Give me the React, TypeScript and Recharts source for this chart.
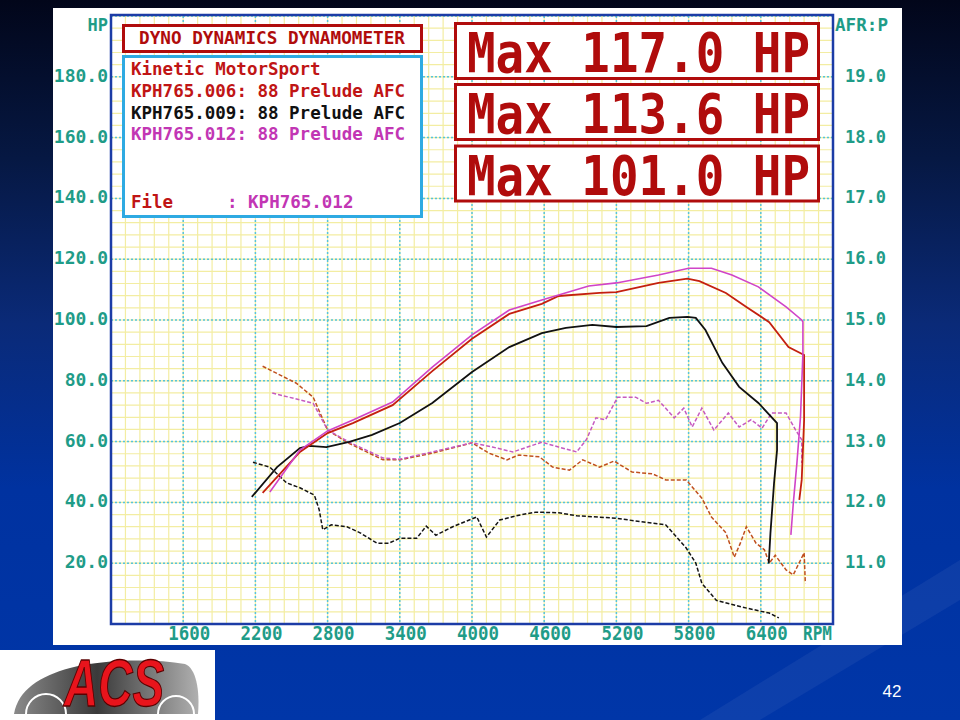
import React from "react";
import { ComposedChart, Line, XAxis, YAxis, CartesianGrid } from "recharts";

// tick labels
const rpmTicks = [1600, 2200, 2800, 3400, 4000, 4600, 5200, 5800, 6400];
const hpTicks = [20, 40, 60, 80, 100, 120, 140, 160, 180];
const afrTicks = [11, 12, 13, 14, 15, 16, 17, 18, 19];

// graph paper
const rpmMinor = Array.from({ length: 51 }, (_, i) => 1000 + i * 120);
const hpMinor = Array.from({ length: 51 }, (_, i) => i * 4);

// power runs (HP vs RPM)
const power006 = [
  { rpm: 2260, v: 43.1 }, { rpm: 2570, v: 56.6 }, { rpm: 2800, v: 62.8 },
  { rpm: 3010, v: 66.1 }, { rpm: 3340, v: 72.0 }, { rpm: 3670, v: 83.2 },
  { rpm: 4000, v: 93.8 }, { rpm: 4310, v: 102.0 }, { rpm: 4580, v: 105.3 },
  { rpm: 4720, v: 107.9 }, { rpm: 5060, v: 108.9 }, { rpm: 5200, v: 109.2 },
  { rpm: 5550, v: 112.2 }, { rpm: 5790, v: 113.6 }, { rpm: 5890, v: 112.8 },
  { rpm: 6110, v: 108.9 }, { rpm: 6280, v: 104.3 }, { rpm: 6470, v: 99.3 },
  { rpm: 6630, v: 91.1 }, { rpm: 6760, v: 88.5 }, { rpm: 6760, v: 67.1 },
  { rpm: 6740, v: 47.4 }, { rpm: 6720, v: 40.8 },
];

const power009 = [
  { rpm: 2170, v: 41.8 }, { rpm: 2380, v: 51.6 }, { rpm: 2570, v: 57.9 },
  { rpm: 2650, v: 58.6 }, { rpm: 2790, v: 58.2 }, { rpm: 2980, v: 59.9 },
  { rpm: 3170, v: 62.2 }, { rpm: 3400, v: 66.1 }, { rpm: 3670, v: 72.7 },
  { rpm: 4000, v: 82.9 }, { rpm: 4310, v: 91.1 }, { rpm: 4580, v: 95.7 },
  { rpm: 4780, v: 97.4 }, { rpm: 5000, v: 98.4 }, { rpm: 5200, v: 97.7 },
  { rpm: 5450, v: 98.0 }, { rpm: 5640, v: 100.7 }, { rpm: 5790, v: 101.0 },
  { rpm: 5860, v: 100.7 }, { rpm: 5940, v: 96.7 }, { rpm: 6080, v: 85.9 },
  { rpm: 6220, v: 78.0 }, { rpm: 6380, v: 72.7 }, { rpm: 6535, v: 66.1 },
  { rpm: 6535, v: 57.2 }, { rpm: 6510, v: 46.3 }, { rpm: 6480, v: 29.8 },
  { rpm: 6466, v: 19.9 },
];

const power012 = [
  { rpm: 2320, v: 43.4 }, { rpm: 2570, v: 57.2 }, { rpm: 2800, v: 63.5 },
  { rpm: 3010, v: 67.1 }, { rpm: 3340, v: 73.0 }, { rpm: 3670, v: 84.5 },
  { rpm: 4000, v: 95.1 }, { rpm: 4310, v: 103.3 }, { rpm: 4580, v: 106.6 },
  { rpm: 4970, v: 111.2 }, { rpm: 5200, v: 112.2 }, { rpm: 5550, v: 114.8 },
  { rpm: 5800, v: 117.0 }, { rpm: 5990, v: 117.0 }, { rpm: 6160, v: 114.8 },
  { rpm: 6380, v: 110.9 }, { rpm: 6610, v: 104.3 }, { rpm: 6740, v: 100.0 },
  { rpm: 6750, v: 99.4 }, { rpm: 6750, v: 89.1 }, { rpm: 6730, v: 68.2 },
  { rpm: 6700, v: 52.9 }, { rpm: 6670, v: 39.7 }, { rpm: 6650, v: 29.3 },
];

// air/fuel ratio runs
const afr006 = [
  { rpm: 2260, v: 14.24 }, { rpm: 2540, v: 13.96 }, { rpm: 2680, v: 13.73 },
  { rpm: 2800, v: 13.19 }, { rpm: 2960, v: 12.99 }, { rpm: 3260, v: 12.7 },
  { rpm: 3400, v: 12.7 }, { rpm: 3670, v: 12.81 }, { rpm: 4000, v: 12.98 },
  { rpm: 4140, v: 12.81 }, { rpm: 4290, v: 12.7 }, { rpm: 4390, v: 12.78 },
  { rpm: 4560, v: 12.75 }, { rpm: 4670, v: 12.58 }, { rpm: 4810, v: 12.53 },
  { rpm: 4920, v: 12.7 }, { rpm: 5060, v: 12.58 }, { rpm: 5180, v: 12.68 },
  { rpm: 5330, v: 12.5 }, { rpm: 5500, v: 12.47 }, { rpm: 5610, v: 12.37 },
  { rpm: 5780, v: 12.37 }, { rpm: 5910, v: 12.07 }, { rpm: 5990, v: 11.76 },
  { rpm: 6110, v: 11.5 }, { rpm: 6180, v: 11.1 }, { rpm: 6230, v: 11.33 },
  { rpm: 6280, v: 11.6 }, { rpm: 6360, v: 11.33 }, { rpm: 6430, v: 11.22 },
  { rpm: 6470, v: 11.0 }, { rpm: 6520, v: 11.13 }, { rpm: 6610, v: 10.89 },
  { rpm: 6670, v: 10.81 }, { rpm: 6760, v: 11.17 }, { rpm: 6770, v: 10.67 },
];

const afr009 = [
  { rpm: 2180, v: 12.66 }, { rpm: 2320, v: 12.58 }, { rpm: 2460, v: 12.32 },
  { rpm: 2570, v: 12.24 }, { rpm: 2690, v: 12.12 }, { rpm: 2730, v: 11.88 },
  { rpm: 2760, v: 11.55 }, { rpm: 2830, v: 11.63 }, { rpm: 2960, v: 11.6 },
  { rpm: 3070, v: 11.5 }, { rpm: 3210, v: 11.33 }, { rpm: 3310, v: 11.33 },
  { rpm: 3400, v: 11.41 }, { rpm: 3540, v: 11.41 }, { rpm: 3620, v: 11.61 },
  { rpm: 3700, v: 11.46 }, { rpm: 3840, v: 11.6 }, { rpm: 4040, v: 11.76 },
  { rpm: 4120, v: 11.43 }, { rpm: 4230, v: 11.71 }, { rpm: 4390, v: 11.79 },
  { rpm: 4530, v: 11.84 }, { rpm: 4720, v: 11.83 }, { rpm: 4870, v: 11.78 },
  { rpm: 5200, v: 11.74 }, { rpm: 5410, v: 11.68 }, { rpm: 5610, v: 11.63 },
  { rpm: 5780, v: 11.25 }, { rpm: 5860, v: 11.0 }, { rpm: 5910, v: 10.67 },
  { rpm: 6030, v: 10.39 }, { rpm: 6240, v: 10.28 }, { rpm: 6470, v: 10.18 },
  { rpm: 6550, v: 10.1 },
];

const afr012 = [
  { rpm: 2340, v: 13.8 }, { rpm: 2680, v: 13.63 }, { rpm: 2800, v: 13.19 },
  { rpm: 2980, v: 12.99 }, { rpm: 3260, v: 12.73 }, { rpm: 3400, v: 12.71 },
  { rpm: 3670, v: 12.83 }, { rpm: 4000, v: 12.98 }, { rpm: 4170, v: 12.91 },
  { rpm: 4340, v: 12.83 }, { rpm: 4580, v: 12.99 }, { rpm: 4720, v: 12.91 },
  { rpm: 4870, v: 12.83 }, { rpm: 4950, v: 13.03 }, { rpm: 5030, v: 13.39 },
  { rpm: 5110, v: 13.36 }, { rpm: 5210, v: 13.73 }, { rpm: 5360, v: 13.73 },
  { rpm: 5450, v: 13.63 }, { rpm: 5550, v: 13.68 }, { rpm: 5680, v: 13.39 },
  { rpm: 5760, v: 13.55 }, { rpm: 5830, v: 13.24 }, { rpm: 5910, v: 13.55 },
  { rpm: 6010, v: 13.19 }, { rpm: 6130, v: 13.47 }, { rpm: 6220, v: 13.24 },
  { rpm: 6320, v: 13.36 }, { rpm: 6410, v: 13.22 }, { rpm: 6490, v: 13.47 },
  { rpm: 6610, v: 13.47 }, { rpm: 6690, v: 13.19 }, { rpm: 6740, v: 13.03 },
  { rpm: 6740, v: 12.65 },
];

const maxLabels = ["Max 117.0 HP", "Max 113.6 HP", "Max 101.0 HP"];
const runLabels = [
  { text: "KPH765.006: 88 Prelude AFC", color: "#c01515" },
  { text: "KPH765.009: 88 Prelude AFC", color: "#111111" },
  { text: "KPH765.012: 88 Prelude AFC", color: "#c236b4" },
];

const teal = "#1f9c88";
const mono = "'DejaVu Sans Mono', 'Liberation Mono', monospace";
const boxRed = "#b00c0c";

const RpmTick = (props: any) => {
  const { x, y, payload } = props;
  return (
    <text x={x + 6} y={y + 16} textAnchor="middle" fill={teal} fontFamily={mono}
      fontWeight="bold" fontSize={19} textLength={42} lengthAdjust="spacingAndGlyphs">
      {payload.value}
    </text>
  );
};

const HpTick = (props: any) => {
  const { x, y, payload } = props;
  return (
    <text x={x} y={y + 5} textAnchor="end" fill={teal} fontFamily={mono}
      fontWeight="bold" fontSize={18}>
      {Number(payload.value).toFixed(1)}
    </text>
  );
};

const AfrTick = (props: any) => {
  const { x, y, payload } = props;
  return (
    <text x={x + 12} y={y + 5} textAnchor="start" fill={teal} fontFamily={mono}
      fontWeight="bold" fontSize={17}>
      {Number(payload.value).toFixed(1)}
    </text>
  );
};

export default function App() {
  return (
    <div
      style={{
        position: "absolute", left: 0, top: 0, width: 960, height: 720, overflow: "hidden",
        background: "linear-gradient(180deg, #02061a 0%, #061843 22%, #0a2a78 45%, #0032a0 68%, #0036a8 100%)",
      }}
    >
      <div style={{ position: "absolute", left: 53, top: 8, width: 849, height: 637, background: "#ffffff" }}>
        <ComposedChart width={849} height={637} margin={{ top: 8, right: 0, bottom: 0, left: 0 }}>
          <XAxis xAxisId="rpm" type="number" dataKey="rpm" domain={[1000, 7000]} ticks={rpmTicks}
            allowDataOverflow height={21} tickSize={0} tickMargin={0} axisLine={false} interval={0}
            tick={<RpmTick />} />
          <YAxis yAxisId="hp" orientation="left" type="number" domain={[0, 200]} ticks={hpTicks}
            allowDataOverflow width={58} tickSize={0} tickMargin={3} axisLine={false} interval={0}
            tick={<HpTick />} />
          <YAxis yAxisId="afr" orientation="right" type="number" domain={[10, 20]} ticks={afrTicks}
            allowDataOverflow width={69} tickSize={0} tickMargin={0} axisLine={false} interval={0}
            tick={<AfrTick />} />
          <CartesianGrid xAxisId="rpm" yAxisId="hp" verticalValues={rpmMinor} horizontalValues={hpMinor}
            stroke="#f3eda2" strokeWidth={1.2} />
          <CartesianGrid xAxisId="rpm" yAxisId="hp" stroke="#56c3dc" strokeWidth={1.5} strokeDasharray="2 2" />

          <Line data={afr009} xAxisId="rpm" yAxisId="afr" dataKey="v" type="linear" stroke="#141414"
            strokeWidth={1.5} strokeDasharray="4 2" dot={false} isAnimationActive={false} />
          <Line data={afr006} xAxisId="rpm" yAxisId="afr" dataKey="v" type="linear" stroke="#c0501e"
            strokeWidth={1.5} strokeDasharray="4 2" dot={false} isAnimationActive={false} />
          <Line data={afr012} xAxisId="rpm" yAxisId="afr" dataKey="v" type="linear" stroke="#c65ac0"
            strokeWidth={1.5} strokeDasharray="4 2" dot={false} isAnimationActive={false} />
          <Line data={power009} xAxisId="rpm" yAxisId="hp" dataKey="v" type="linear" stroke="#111111"
            strokeWidth={1.8} dot={false} isAnimationActive={false} />
          <Line data={power006} xAxisId="rpm" yAxisId="hp" dataKey="v" type="linear" stroke="#c4200f"
            strokeWidth={1.8} dot={false} isAnimationActive={false} />
          <Line data={power012} xAxisId="rpm" yAxisId="hp" dataKey="v" type="linear" stroke="#d044c8"
            strokeWidth={1.6} dot={false} isAnimationActive={false} />
        </ComposedChart>
      </div>

      <svg width={960} height={720} style={{ position: "absolute", left: 0, top: 0, pointerEvents: "none" }}>
        {/* plot frame */}
        <rect x={111} y={15} width={722} height={609} fill="none" stroke="#1c3ca6" strokeWidth={2.5} />
        <text x={108} y={31} textAnchor="end" fill={teal} fontFamily={mono} fontWeight="bold" fontSize={17}>HP</text>
        <text x={835} y={31} fill={teal} fontFamily={mono} fontWeight="bold" fontSize={17}
          textLength={53} lengthAdjust="spacingAndGlyphs">AFR:P</text>
        <text x={803} y={640} fill={teal} fontFamily={mono} fontWeight="bold" fontSize={19}
          textLength={29} lengthAdjust="spacingAndGlyphs">RPM</text>

        {/* title box */}
        <rect x={123.5} y={25.5} width={298} height={26} fill="#ffffff" stroke={boxRed} strokeWidth={3} />
        <text x={272} y={44} textAnchor="middle" fill={boxRed} fontFamily={mono} fontWeight="bold"
          fontSize={17.5} textLength={266} lengthAdjust="spacingAndGlyphs">DYNO DYNAMICS DYNAMOMETER</text>

        {/* run info box */}
        <rect x={123.5} y={56.5} width={298} height={160} fill="#ffffff" stroke="#2eaae2" strokeWidth={3} />
        <text x={131} y={75} fill="#c01515" fontFamily={mono} fontWeight="bold" fontSize={17.5}>Kinetic MotorSport</text>
        {runLabels.map((r, i) => (
          <text key={r.text} x={131} y={97 + i * 21.7} fill={r.color} fontFamily={mono} fontWeight="bold"
            fontSize={17.5} textLength={274} lengthAdjust="spacingAndGlyphs">{r.text}</text>
        ))}
        <text x={131} y={208} fill="#c01515" fontFamily={mono} fontWeight="bold" fontSize={17.5}>File</text>
        <text x={227} y={208} fill="#c236b4" fontFamily={mono} fontWeight="bold" fontSize={17.5}>: KPH765.012</text>

        {/* max power boxes */}
        {maxLabels.map((m, i) => {
          const top = [23.5, 84.5, 146][i];
          return (
            <g key={m}>
              <rect x={455.5} y={top} width={363} height={55} fill="#ffffff" stroke={boxRed} strokeWidth={3} />
              <g transform={`translate(467 ${top + 48.5}) scale(1 1.19)`}>
                <text x={0} y={0} fill={boxRed} fontFamily={mono} fontWeight="bold" fontSize={46}
                  textLength={343} lengthAdjust="spacingAndGlyphs">{m}</text>
              </g>
            </g>
          );
        })}

        {/* slide footer */}
        <polygon points="700,720 960,560 960,600 760,720" fill="rgba(255,255,255,0.05)" />
        <rect x={0} y={650} width={215} height={70} fill="#ffffff" />
        <defs>
          <linearGradient id="car" x1="0" y1="0" x2="1" y2="0">
            <stop offset="0%" stopColor="#8a8a8a" />
            <stop offset="45%" stopColor="#3a3a3a" />
            <stop offset="100%" stopColor="#b0b0b0" />
          </linearGradient>
        </defs>
        <path d="M14,714 C18,690 40,676 70,668 C100,660 150,658 185,664 C196,668 200,690 198,714 Z" fill="url(#car)" />
        <path d="M26,714 A20,20 0 0 1 66,714" fill="none" stroke="#ffffff" strokeWidth={2} />
        <path d="M158,714 A18,18 0 0 1 194,714" fill="none" stroke="#ffffff" strokeWidth={2} />
        <g transform="translate(64 706) scale(1 1.25)">
          <text x={0} y={0} fill="#e8141c" stroke="#5a0000" strokeWidth={1} fontFamily="'Liberation Sans', Arial, sans-serif"
            fontWeight="bold" fontStyle="italic" fontSize={54} textLength={100} lengthAdjust="spacingAndGlyphs">ACS</text>
        </g>
        <text x={892} y={697} textAnchor="middle" fill="#ffffff" fontFamily="'Liberation Sans', Arial, sans-serif"
          fontSize={17}>42</text>
      </svg>
    </div>
  );
}
